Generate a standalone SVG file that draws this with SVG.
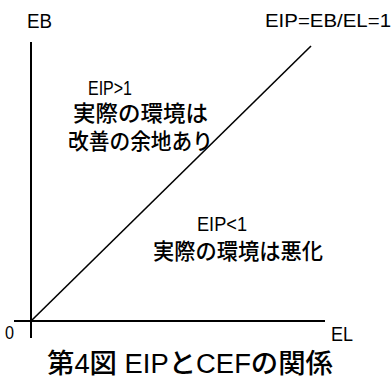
<svg xmlns="http://www.w3.org/2000/svg" width="392" height="378" viewBox="0 0 392 378">
<style>
.t{font-family:"Liberation Sans","Noto Sans CJK JP",sans-serif;fill:#000}
.j{font-family:"Liberation Sans","Noto Sans CJK JP",sans-serif;fill:#000;font-weight:500}
.ax{stroke:#000;stroke-width:2;fill:none}
.ln{stroke:#000;stroke-width:1.6;fill:none}
</style>
<rect width="392" height="378" fill="#fff"/>
<g id="connectors">
<line class="ax" x1="31" y1="42" x2="31" y2="338"/>
<line class="ax" x1="14" y1="321" x2="325" y2="321"/>
<line class="ln" x1="31" y1="321" x2="311" y2="46"/>
</g>
<g id="axis-labels">
<text class="t" x="27" y="28" font-size="20" textLength="25" lengthAdjust="spacingAndGlyphs">EB</text>
<text class="t" x="5" y="339" font-size="18" textLength="9" lengthAdjust="spacingAndGlyphs">0</text>
<text class="t" x="331" y="341" font-size="20" textLength="22" lengthAdjust="spacingAndGlyphs">EL</text>
<text class="t" x="265" y="27" font-size="19" textLength="126" lengthAdjust="spacingAndGlyphs">EIP=EB/EL=1</text>
</g>
<g id="region-upper">
<text class="t" x="88" y="95" font-size="20" textLength="44" lengthAdjust="spacingAndGlyphs">EIP&gt;1</text>
<text class="j" x="73" y="121" font-size="22" textLength="135" lengthAdjust="spacingAndGlyphs">実際の環境は</text>
<text class="j" x="68" y="149" font-size="22" textLength="145" lengthAdjust="spacingAndGlyphs">改善の余地あり</text>
</g>
<g id="region-lower">
<text class="t" x="197" y="231" font-size="20" textLength="50" lengthAdjust="spacingAndGlyphs">EIP&lt;1</text>
<text class="j" x="153" y="259" font-size="22" textLength="170" lengthAdjust="spacingAndGlyphs">実際の環境は悪化</text>
</g>
<g id="caption">
<text class="j" x="47" y="373" font-size="27" textLength="286" lengthAdjust="spacingAndGlyphs">第4図 EIPとCEFの関係</text>
</g>
</svg>
